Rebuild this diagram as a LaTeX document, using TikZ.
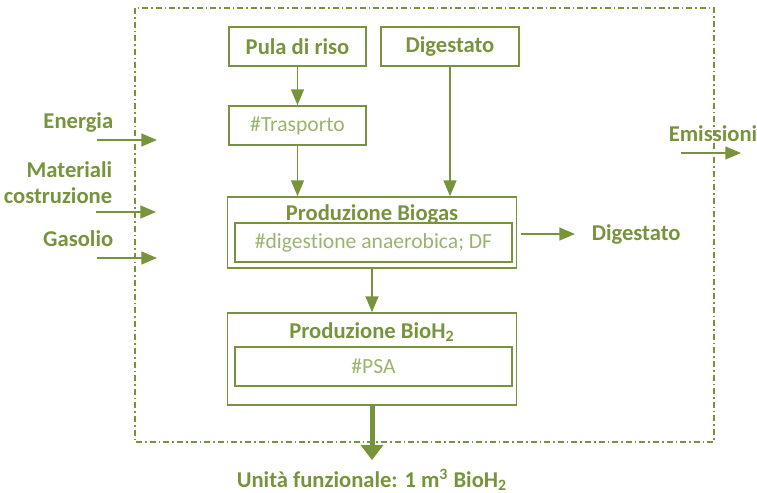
\documentclass[tikz,border=0pt]{standalone}
\usepackage{fontspec}
\setmainfont[Ligatures=CommonOff]{Carlito}
\usetikzlibrary{arrows,arrows.meta}
\definecolor{olive}{HTML}{77933C}
\definecolor{lolive}{HTML}{9AB36E}

\begin{document}
\begin{tikzpicture}[->,>=triangle 45,x=0.5pt,y=-0.5pt,color=olive,line width=0.8pt,
  main node/.style={rectangle,draw=olive,line width=0.9pt,inner sep=0pt,font=\bfseries\fontsize{11.3}{13}\selectfont},
  sub node/.style={rectangle,draw=olive,line width=0.9pt,inner sep=0pt,text=lolive,font=\fontsize{10.8}{12}\selectfont},
  title node/.style={inner sep=0pt,font=\bfseries\fontsize{11.3}{13}\selectfont},
  side node/.style={inner sep=0pt,align=right,font=\bfseries\fontsize{11.3}{13}\selectfont}]

  \useasboundingbox (0,0) rectangle (757,493);

  % confine del sistema
  \draw[-,line width=0.6pt,dash pattern=on 3pt off 1.5pt on 0.8pt off 1.5pt] (135,8) rectangle (714,442);

  \node[main node,minimum width=68.5pt,minimum height=19.5pt] (pula) at (297.5,46.5) {Pula di riso};
  \node[main node,minimum width=69pt,minimum height=19.5pt] (dig) at (450,46.5) {Digestato};
  \node[sub node,minimum width=68.5pt,minimum height=19.5pt] (trasp) at (297.5,125.5) {\#Trasporto};

  \node[main node,minimum width=144.5pt,minimum height=35.5pt] (biogas) at (372,232.5) {};
  \node[title node] (biot) at (372,214) {Produzione Biogas};
  \node[sub node,minimum width=138.5pt,minimum height=19.5pt] (anaer) at (373.5,242.5) {\#digestione anaerobica; DF};

  \node[main node,minimum width=144.5pt,minimum height=46pt] (bioh) at (372,359) {};
  \node[title node] (bioht) at (372,332) {Produzione BioH\textsubscript{2}};
  \node[sub node,minimum width=138.5pt,minimum height=19.5pt] (psa) at (373.5,366.5) {\#PSA};

  \node[title node] (uf) at (372,480) {Unità funzionale: 1 m\textsuperscript{3} BioH\textsubscript{2}};
  \node[title node,anchor=west] (digout) at (591,234) {Digestato};
  \node[title node] (emis) at (713,134) {Emissioni};

  \node[side node,anchor=east] (en) at (114,122) {Energia};
  \node[side node,anchor=east] (mat) at (113,183) {Materiali\\costruzione};
  \node[side node,anchor=east] (gas) at (114,239) {Gasolio};

  \coordinate (enA) at (97,140);
  \coordinate (enB) at (157,140);
  \coordinate (matA) at (96,212);
  \coordinate (matB) at (156,212);
  \coordinate (gasA) at (97,258);
  \coordinate (gasB) at (157,258);
  \coordinate (emA) at (681,153);
  \coordinate (emB) at (741,153);
  \coordinate (ufA) at (372,460);

    \path
    (pula) edge (trasp)
    (trasp) edge (trasp |- biogas.north)
    (dig) edge (dig |- biogas.north)
    (biogas) edge (bioh)
    (biogas.east |- digout.west) edge [shorten <=2pt,shorten >=8pt] (digout.west)
    (enA) edge (enB)
    (matA) edge (matB)
    (gasA) edge (gasB)
    (emA) edge (emB)
    (bioh) edge [line width=2.5pt,-{Triangle[length=7.5pt,width=11pt]},shorten >=0pt] (ufA)
    ;

\end{tikzpicture}
\end{document}
